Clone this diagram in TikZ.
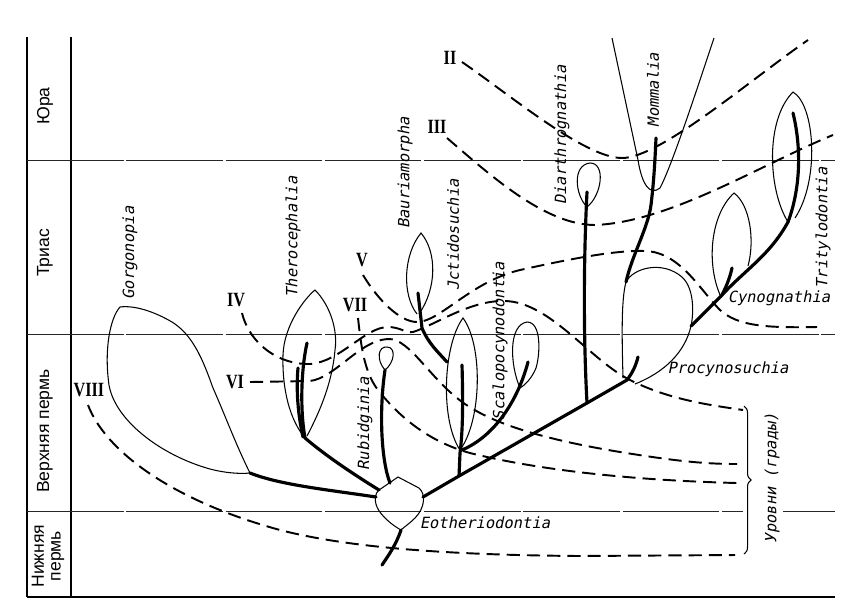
\documentclass[tikz,border=0pt]{standalone}
\usepackage{fontspec}
\usepackage{graphicx}
\setmainfont{Liberation Sans}
\newfontfamily\taxfont[FakeSlant=0.2]{DejaVu Sans Mono}
\newfontfamily\numfont{Liberation Serif}
\usetikzlibrary{decorations.pathreplacing}
\newcommand{\romnum}[1]{\scalebox{0.8}[1]{#1}}

\begin{document}
\begin{tikzpicture}[
  x=0.02cm,
  y=-0.02cm,
  font=\fontsize{10}{11}\selectfont,
  rule/.style={line width=0.7pt, draw=black},
  period/.style={line width=0.5pt, draw=black!85, dash pattern=on 55pt off 1.5pt},
  outline/.style={line width=0.6pt, draw=black},
  branch/.style={line width=1.8pt, line cap=round, draw=black},
  gradeline/.style={line width=1.1pt, dash pattern=on 7.5pt off 4pt, draw=black},
  era/.style={rotate=90, inner sep=0pt},
  taxon/.style={font=\taxfont\fontsize{8.8}{10}\selectfont, inner sep=0pt},
  numeral/.style={font=\numfont\bfseries\fontsize{11.5}{12}\selectfont, inner sep=0pt}
]
\useasboundingbox (0,0) rectangle (861,603);

% time scale
\draw[rule] (27,37) -- (27,597);
\draw[rule] (71,37) -- (71,597);
\draw[rule, line width=1pt] (27,597) -- (835,597);
\draw[period] (27,160) -- (835,160);
\draw[period] (27,334) -- (835,334);
\draw[period] (27,511) -- (743,511);
\draw[period] (783,511) -- (835,511);

\node[era] (jura) at (45,106) {Юра};
\node[era] (trias) at (45,253) {Триас};
\node[era] (upperPerm) at (45,431) {Верхняя пермь};
\node[era, align=center, font=\fontsize{10}{9.6}\selectfont] (lowerPerm) at (48,556)
  {Нижняя\\пермь};

% branch points
\coordinate (eoBase) at (401,530);
\coordinate (eoRoot) at (382,565);
\coordinate (eoLeft) at (376,497);
\coordinate (eoUpLeft) at (379,490);
\coordinate (eoUp) at (390,483);
\coordinate (eoRight) at (423,497);
\coordinate (gorgBase) at (250,473);
\coordinate (therBase) at (305,438);
\coordinate (rubBase) at (385,370);
\coordinate (scalFork) at (459,476);
\coordinate (diarFork) at (587,403);
\coordinate (procFork) at (627,380);
\coordinate (procTop) at (626,282);
\coordinate (procRight) at (691,326);
\coordinate (cynoFork) at (722,295);
\coordinate (trityBase) at (788,222);

% outlines of the groups
\draw[outline] (398,477) -- (419,488) .. controls (426,494) and (425,508) .. (415,518)
  .. controls (409,524) and (404,527) .. (eoBase)
  .. controls (392,525) and (381,516) .. (377,507)
  .. controls (374,500) and (375,493) .. (eoUpLeft) -- cycle;
\draw[outline] (gorgBase) .. controls (236,445) and (225,415) .. (213,388)
  .. controls (203,360) and (193,335) .. (172,322)
  .. controls (155,312) and (135,305) .. (120,307)
  .. controls (110,318) and (104,350) .. (109,385)
  .. controls (115,420) and (160,455) .. (210,469)
  .. controls (225,473) and (240,474) .. (gorgBase);
\draw[outline] (therBase) .. controls (290,420) and (282,390) .. (283,355)
  .. controls (284,325) and (305,298) .. (315,290)
  .. controls (330,305) and (338,330) .. (335,350)
  .. controls (332,385) and (318,415) .. (307,436);
\draw[outline] (rubBase) .. controls (376,360) and (378,346) .. (387,347)
  .. controls (396,347) and (395,362) .. (rubBase);
\draw[outline] (417,314) .. controls (402,295) and (403,255) .. (421,233)
  .. controls (437,252) and (437,288) .. (419,314);
\draw[outline] (460,450) .. controls (440,420) and (443,345) .. (463,318)
  .. controls (483,345) and (482,420) .. (460,450);
\draw[outline] (520,388) .. controls (510,365) and (508,325) .. (527,322)
  .. controls (542,322) and (540,355) .. (536,368)
  .. controls (532,378) and (525,385) .. (520,388);
\draw[outline] (587,207) .. controls (575,195) and (572,165) .. (590,163)
  .. controls (606,163) and (602,195) .. (587,207);
\draw[outline] (623,378) .. controls (622,340) and (621,300) .. (procTop)
  .. controls (633,268) and (662,260) .. (682,277)
  .. controls (694,288) and (694,312) .. (procRight)
  .. controls (685,352) and (665,372) .. (635,384);
\draw[outline] (612,38) -- (638,160) .. controls (642,185) and (650,196) .. (660,188)
  .. controls (672,165) and (695,95) .. (714,38);
\draw[outline] (721,297) .. controls (706,265) and (710,215) .. (734,193)
  .. controls (750,205) and (755,240) .. (748,266);
\draw[outline] (trityBase) .. controls (768,190) and (765,120) .. (793,92)
  .. controls (815,105) and (820,180) .. (795,218);

% phylogeny
\draw[branch] (eoBase) .. controls (396,545) and (388,556) .. (eoRoot);
\draw[branch] (eoLeft) .. controls (330,490) and (280,485) .. (gorgBase);
\draw[branch] (eoUpLeft) .. controls (350,472) and (325,455) .. (therBase);
\draw[branch] (therBase) .. controls (300,410) and (301,370) .. (307,343);
\draw[branch] (303,437) .. controls (298,415) and (296,390) .. (298,368);
\draw[branch] (eoUp) .. controls (381,460) and (379,410) .. (rubBase);
\draw[branch] (eoRight) -- (scalFork) -- (diarFork) -- (procFork);
\draw[branch] (scalFork) -- (460,453) .. controls (463,430) and (463,400) .. (462,365);
\draw[branch] (462,450) .. controls (495,436) and (518,400) .. (528,362);
\draw[branch] (418,293) -- (422,328) .. controls (428,343) and (438,352) .. (447,362);
\draw[branch] (diarFork) .. controls (583,330) and (584,250) .. (587,192);
\draw[branch] (procFork) .. controls (633,372) and (636,365) .. (638,357);
\draw[branch] (procTop) .. controls (632,255) and (648,228) .. (651,205)
  .. controls (654,180) and (655,160) .. (656,138);
\draw[branch] (procRight) .. controls (705,312) and (715,302) .. (cynoFork)
  .. controls (745,270) and (770,255) .. (trityBase);
\draw[branch] (cynoFork) .. controls (727,285) and (730,277) .. (732,268);
\draw[branch] (trityBase) .. controls (800,190) and (802,150) .. (793,113);

% grade levels
\node[numeral] (gradeII) at (450,58) {\romnum{II}};
\node[numeral] (gradeIII) at (437,127) {\romnum{III}};
\node[numeral] (gradeIV) at (236,300) {\romnum{IV}};
\node[numeral] (gradeV) at (362,260) {\romnum{V}};
\node[numeral] (gradeVI) at (235,382) {\romnum{VI}};
\node[numeral] (gradeVII) at (355,305) {\romnum{VII}};
\node[numeral] (gradeVIII) at (89,390) {\romnum{VIII}};

\draw[gradeline] (462,62) .. controls (510,95) and (585,158) .. (622,158)
  .. controls (660,158) and (750,80) .. (808,40);
\draw[gradeline] (447,138) .. controls (490,175) and (545,225) .. (595,225)
  .. controls (670,222) and (760,165) .. (833,135);
\draw[gradeline] (242,313) .. controls (250,345) and (280,365) .. (310,364)
  .. controls (340,362) and (365,327) .. (388,327)
  .. controls (400,327) and (405,333) .. (413,332)
  .. controls (435,325) and (470,300) .. (505,301)
  .. controls (550,302) and (590,360) .. (630,380)
  .. controls (670,400) and (710,405) .. (743,410);
\draw[gradeline] (363,275) .. controls (378,300) and (400,322) .. (417,322)
  .. controls (440,322) and (470,282) .. (520,270)
  .. controls (570,259) and (615,250) .. (645,251)
  .. controls (680,252) and (700,290) .. (720,310)
  .. controls (738,326) and (765,328) .. (817,327);
\draw[gradeline] (250,382) -- (310,381) .. controls (335,378) and (360,340) .. (388,339)
  .. controls (410,338) and (430,380) .. (465,404)
  .. controls (500,428) and (560,442) .. (620,452)
  .. controls (670,460) and (700,464) .. (737,464);
\draw[gradeline] (358,318) .. controls (361,345) and (364,372) .. (378,390)
  .. controls (400,418) and (430,442) .. (470,453)
  .. controls (530,468) and (620,480) .. (737,483);
\draw[gradeline] (88,405) .. controls (105,450) and (170,500) .. (280,530)
  .. controls (350,548) and (450,555) .. (580,556) -- (735,555);

\draw[outline, decorate, decoration={brace, amplitude=4pt}] (744,406) -- (744,554);
\node[taxon, rotate=90] (grades) at (772,478) {Уровни (грады)};

% group names
\node[taxon, rotate=90] (gorgonopia) at (130,253) {Gorgonopia};
\node[taxon, rotate=90] (therocephalia) at (293,237) {Therocephalia};
\node[taxon, rotate=90] (bauriamorpha) at (405,173) {Bauriamorpha};
\node[taxon, rotate=90] (ictidosuchia) at (453,235) {Jctidosuchia};
\node[taxon, rotate=90] (scalopocynodontia) at (500,341) {Scalopocynodontia};
\node[taxon, rotate=90] (diarthrognathia) at (562,135) {Diarthrognathia};
\node[taxon, rotate=90] (mammalia) at (653,90) {Mommalia};
\node[taxon, rotate=90] (tritylodontia) at (823,228) {Tritylodontia};
\node[taxon, rotate=90] (rubidginia) at (365,424) {Rubidginia};
\node[taxon] (cynognathia) at (779,298) {Cynognathia};
\node[taxon] (procynosuchia) at (728,369) {Procynosuchia};
\node[taxon] (eotheriodontia) at (485,523) {Eotheriodontia};

\end{tikzpicture}
\end{document}
